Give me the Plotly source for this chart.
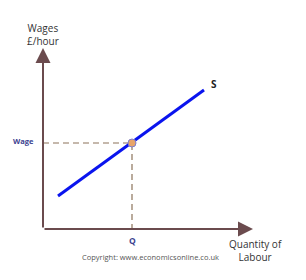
import plotly.graph_objects as go

# Data (chart units: origin at axes corner)
supply_q = [15, 161]
supply_w = [33, 139]
eq_q = [89]
eq_w = [86]
x_axis_end = 210
y_axis_end = 181

axis_col = "#6b4b4e"
dash_col = "#8c735a"
lab_col = "#3b3f8f"

fig = go.Figure()
# dashed guides
fig.add_trace(go.Scatter(x=[0, eq_q[0], eq_q[0]], y=[eq_w[0], eq_w[0], 0], mode="lines",
                         line=dict(color=dash_col, width=1.2, dash="6px,4px"), hoverinfo="skip"))
# supply curve
fig.add_trace(go.Scatter(x=supply_q, y=supply_w, mode="lines",
                         line=dict(color="#0a14ee", width=3), hoverinfo="skip"))
# equilibrium point
fig.add_trace(go.Scatter(x=eq_q, y=eq_w, mode="markers",
                         marker=dict(size=8, color="#e8a46a", line=dict(color="#7c7fd0", width=1)),
                         hoverinfo="skip"))

anns = []
# axes arrows
anns.append(dict(x=0, y=y_axis_end, ax=0, ay=0, xref="x", yref="y", axref="x", ayref="y",
                 showarrow=True, arrowhead=2, arrowsize=1.5, arrowwidth=2, arrowcolor=axis_col, text=""))
anns.append(dict(x=x_axis_end, y=0, ax=0, ay=0, xref="x", yref="y", axref="x", ayref="y",
                 showarrow=True, arrowhead=2, arrowsize=1.5, arrowwidth=2, arrowcolor=axis_col, text=""))
font = "Open Sans, Liberation Sans, sans-serif"
anns.append(dict(x=0, y=195, text="Wages<br>£/hour", showarrow=False, xref="x", yref="y",
                 font=dict(family=font, size=10, color="#333")))
anns.append(dict(x=212, y=-21, text="Quantity of<br>Labour", showarrow=False, xref="x", yref="y",
                 font=dict(family=font, size=10, color="#333")))
anns.append(dict(x=-20, y=88, text="<b>Wage</b>", showarrow=False, xref="x", yref="y",
                 font=dict(family=font, size=7.5, color=lab_col)))
anns.append(dict(x=eq_q[0], y=-11, text="<b>Q</b>", showarrow=False, xref="x", yref="y",
                 font=dict(family=font, size=8.5, color=lab_col)))
anns.append(dict(x=171, y=145, text="<b>S</b>", showarrow=False, xref="x", yref="y",
                 font=dict(family=font, size=10, color="#222")))
anns.append(dict(x=107, y=-28, text="Copyright: www.economicsonline.co.uk", showarrow=False, xref="x", yref="y",
                 font=dict(family=font, size=7.5, color="#555")))

fig.update_layout(width=306, height=280, margin=dict(l=0, r=0, t=0, b=0),
                  paper_bgcolor="white", plot_bgcolor="white", showlegend=False,
                  xaxis=dict(range=[-43, 263], visible=False, fixedrange=True),
                  yaxis=dict(range=[-51, 229], visible=False, fixedrange=True),
                  annotations=anns)
fig.write_html("out.html")
